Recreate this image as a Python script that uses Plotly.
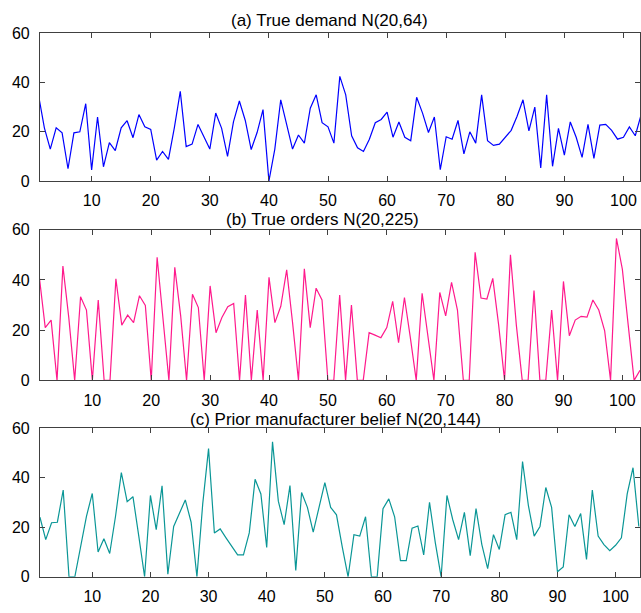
import plotly.graph_objects as go

# ---- data ----
demand = [35, 21.6, 13, 21.6, 19.6, 5, 19.6, 20, 31.4, 4.5, 26, 5.8, 15.6, 12.4, 21.6, 24.5, 17.6, 27, 22, 21,
          8.5, 12, 8.8, 21.7, 36.4, 14, 15, 23, 18, 13, 27.6, 21.4, 10, 24, 32.5, 24.6, 12.8, 19.7, 29, 0,
          13, 33, 23, 13, 18.7, 15.4, 29.6, 35, 23.7, 22, 15.4, 42.5, 35, 18.4, 13.5, 12, 17, 23.7, 25, 28,
          17.8, 24, 17.8, 16.4, 34, 27.6, 19.7, 26, 4.6, 18, 17, 24.6, 11, 20, 15.4, 35, 16.4, 14.5, 15, 17.8,
          20.6, 26.3, 33, 20.4, 30, 5.3, 35, 6, 21.4, 10.5, 24, 17.8, 9.6, 23, 9.2, 22.7, 23, 20.6, 17, 17.8,
          22, 18.4, 27]

orders = [41, 21, 24, 0, 45.5, 25, 0, 33.3, 28, 0, 32, 0, 0, 40.4, 22, 26, 23, 33.7, 29.8, 0,
          49, 25, 0, 45, 25.7, 0, 34.3, 29, 0, 37.6, 19, 25, 29.3, 30.6, 0, 34, 0, 28, 0, 41,
          23, 29.5, 44, 23, 0, 44.4, 21, 36.7, 32, 0, 0, 34, 0, 30, 0, 0, 19, 18, 17, 21,
          31.5, 15, 33, 17, 0, 34.7, 17, 0, 35, 25.7, 39, 28, 0, 0, 51, 32.8, 32.4, 40.6, 22, 0,
          50, 22, 0, 0, 35.8, 0, 0, 28, 0, 39.4, 17.8, 24, 25.5, 25.2, 32, 28, 19.7, 0, 56.5, 44.3,
          22, 0, 4]

belief = [24, 15, 21.8, 22, 35, 0, 0, 12, 24.4, 33.6, 10, 15.3, 9.4, 24.4, 42, 30.3, 32.3, 16.4, 0, 32.8,
          19, 36.7, 1, 20.3, 25.8, 31, 22, 0, 29.5, 51.7, 17.7, 19.3, 15.7, 12.4, 8.8, 8.8, 17.7, 39.3, 33.4, 11.8,
          54.4, 30.5, 21, 36.8, 2.5, 34, 28, 18, 28, 38, 28, 25, 12, 0, 17, 16.4, 24.2, 0, 0, 27.5,
          31.4, 24.2, 6.5, 6.5, 19.6, 20.5, 8.8, 30, 13.7, 0, 32.8, 23, 15, 26, 8.5, 27.5, 13, 3.3, 17, 11,
          25, 26, 15, 46.5, 28.8, 16.4, 20.3, 36, 28, 2, 4, 25, 20.3, 25.5, 7, 35, 16.4, 13, 10.5, 12.7,
          15.7, 33.4, 44, 20.3]

titles = ["(a) True demand N(20,64)", "(b) True orders N(20,225)", "(c) Prior manufacturer belief N(20,144)"]
x_ticks = [10, 20, 30, 40, 50, 60, 70, 80, 90, 100]
y_ticks = [0, 20, 40, 60]

W, H = 641, 613
series = [demand, orders, belief]
colors = ["#0000FF", "#FF1A8C", "#0A9696"]
# pixel layout (top, bottom) of each axes box
boxes = [(26, 178), (228, 383), (432, 585)]
xranges = [[1.25, 102.8], [1.1, 103.0], [1.0, 104.2]]
title_y = [13, 218, 423]
title_x = [330, 323, 336]

fig = go.Figure()
tfont = dict(family="Liberation Sans, Arial, sans-serif", size=16, color="#000000")
hfont = dict(family="Liberation Sans, Arial, sans-serif", size=17, color="#000000")
axcol = "#404040"
for k, ys in enumerate(series):
    n = k + 1
    xs = list(range(1, len(ys) + 1))
    fig.add_trace(go.Scatter(x=xs, y=ys, mode="lines", line=dict(color=colors[k], width=1.2),
                             xaxis="x" if n == 1 else f"x{n}", yaxis="y" if n == 1 else f"y{n}",
                             showlegend=False, hoverinfo="skip"))
    top, bot = boxes[k]
    xa = dict(domain=[40 / W, 1.0], range=xranges[k], tickvals=x_ticks, ticks="inside", ticklen=5,
              tickcolor=axcol, showline=True, linecolor=axcol, linewidth=1, mirror="ticks",
              showgrid=False, zeroline=False, tickfont=tfont, anchor="y" if n == 1 else f"y{n}",
              ticklabelstandoff=5)
    ya = dict(domain=[1 - bot / H, 1 - top / H], range=[0, 60], tickvals=y_ticks, ticks="inside", ticklen=5,
              tickcolor=axcol, showline=True, linecolor=axcol, linewidth=1, mirror="ticks",
              showgrid=False, zeroline=False, tickfont=tfont, anchor="x" if n == 1 else f"x{n}",
              ticklabelstandoff=6)
    fig.update_layout(**{("xaxis" if n == 1 else f"xaxis{n}"): xa, ("yaxis" if n == 1 else f"yaxis{n}"): ya})
    fig.add_annotation(text=titles[k], x=title_x[k] / W, y=1 - title_y[k] / H, xref="paper", yref="paper",
                       showarrow=False, xanchor="center", yanchor="middle", font=hfont)

fig.update_layout(width=W, height=H, margin=dict(l=0, r=0, t=0, b=0),
                  paper_bgcolor="white", plot_bgcolor="white")
fig.write_html("out.html", config={"displayModeBar": False},
               post_script="document.body.style.margin='0';document.body.style.overflow='hidden';")
